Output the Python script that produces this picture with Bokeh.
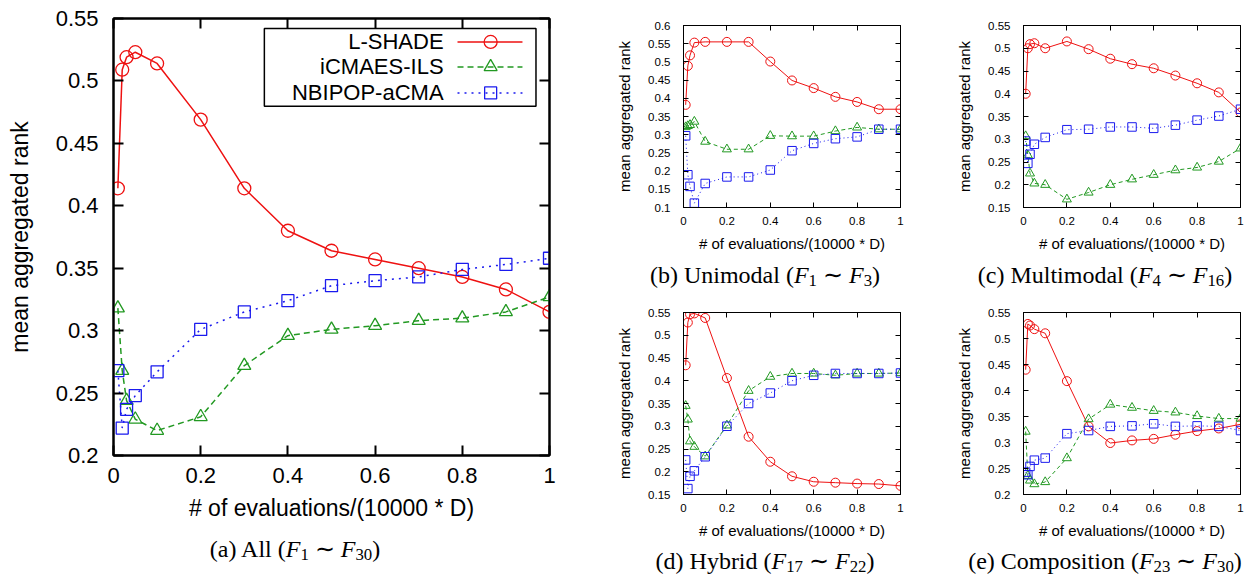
from bokeh.plotting import figure
from bokeh.models import Range1d, FixedTicker, LinearAxis, Div
from bokeh.layouts import row, column
from bokeh.core.properties import value
from bokeh.embed import file_html
from bokeh.resources import INLINE

# ---------------- data ----------------
checkpoints = [0.01, 0.02, 0.03, 0.05, 0.1, 0.2, 0.3, 0.4, 0.5, 0.6, 0.7, 0.8, 0.9, 1.0]
algorithms = ["L-SHADE", "iCMAES-ILS", "NBIPOP-aCMA"]

all_lshade = [0.414, 0.509, 0.519, 0.523, 0.514, 0.469, 0.414, 0.380, 0.364, 0.357, 0.350, 0.343, 0.333, 0.315]
all_icmaes = [0.318, 0.268, 0.244, 0.229, 0.220, 0.231, 0.272, 0.296, 0.301, 0.304, 0.308, 0.310, 0.315, 0.327]
all_nbipop = [0.268, 0.222, 0.237, 0.248, 0.267, 0.301, 0.315, 0.324, 0.336, 0.340, 0.343, 0.349, 0.353, 0.358]

uni_lshade = [0.382, 0.489, 0.518, 0.553, 0.555, 0.555, 0.555, 0.501, 0.449, 0.428, 0.404, 0.390, 0.370, 0.370]
uni_icmaes = [0.321, 0.324, 0.327, 0.336, 0.281, 0.260, 0.260, 0.297, 0.296, 0.296, 0.310, 0.320, 0.315, 0.315]
uni_nbipop = [0.297, 0.190, 0.158, 0.112, 0.166, 0.184, 0.184, 0.203, 0.256, 0.276, 0.289, 0.294, 0.315, 0.315]

multi_lshade = [0.400, 0.500, 0.509, 0.511, 0.500, 0.515, 0.498, 0.477, 0.465, 0.456, 0.440, 0.423, 0.403, 0.359]
multi_icmaes = [0.307, 0.265, 0.225, 0.203, 0.200, 0.168, 0.183, 0.200, 0.212, 0.222, 0.232, 0.238, 0.251, 0.280]
multi_nbipop = [0.296, 0.247, 0.267, 0.289, 0.304, 0.321, 0.322, 0.327, 0.327, 0.324, 0.331, 0.342, 0.351, 0.366]

hyb_lshade = [0.434, 0.528, 0.546, 0.548, 0.538, 0.406, 0.277, 0.222, 0.190, 0.178, 0.176, 0.174, 0.173, 0.169]
hyb_icmaes = [0.345, 0.315, 0.267, 0.255, 0.234, 0.302, 0.378, 0.409, 0.416, 0.416, 0.412, 0.416, 0.416, 0.417]
hyb_nbipop = [0.226, 0.163, 0.190, 0.202, 0.233, 0.300, 0.350, 0.373, 0.400, 0.412, 0.416, 0.416, 0.416, 0.417]

comp_lshade = [0.440, 0.528, 0.525, 0.518, 0.510, 0.418, 0.331, 0.299, 0.304, 0.307, 0.315, 0.322, 0.327, 0.335]
comp_icmaes = [0.321, 0.236, 0.227, 0.220, 0.224, 0.270, 0.345, 0.373, 0.367, 0.361, 0.358, 0.351, 0.346, 0.346]
comp_nbipop = [0.243, 0.238, 0.254, 0.266, 0.270, 0.317, 0.323, 0.331, 0.332, 0.336, 0.331, 0.332, 0.331, 0.323]

x_ticks = [0, 0.2, 0.4, 0.6, 0.8, 1]
x_tick_labels = ["0", "0.2", "0.4", "0.6", "0.8", "1"]
y_ticks_all = [0.2, 0.25, 0.3, 0.35, 0.4, 0.45, 0.5, 0.55]
y_labels_all = ["0.2", "0.25", "0.3", "0.35", "0.4", "0.45", "0.5", "0.55"]
y_ticks_uni = [0.1, 0.15, 0.2, 0.25, 0.3, 0.35, 0.4, 0.45, 0.5, 0.55, 0.6]
y_labels_uni = ["0.1", "0.15", "0.2", "0.25", "0.3", "0.35", "0.4", "0.45", "0.5", "0.55", "0.6"]
y_ticks_mid = [0.15, 0.2, 0.25, 0.3, 0.35, 0.4, 0.45, 0.5, 0.55]
y_labels_mid = ["0.15", "0.2", "0.25", "0.3", "0.35", "0.4", "0.45", "0.5", "0.55"]
y_ticks_comp = [0.2, 0.25, 0.3, 0.35, 0.4, 0.45, 0.5, 0.55]
y_labels_comp = ["0.2", "0.25", "0.3", "0.35", "0.4", "0.45", "0.5", "0.55"]

x_title = "# of evaluations/(10000 * D)"
y_title = "mean aggregated rank"

# ---------------- styles ----------------
COLORS = ["#ee1111", "#229922", "#1a1aee"]
MARKERS = ["circle", "triangle", "square"]
SANS = "Liberation Sans"
SERIF = "Liberation Serif"


def style_axis(ax, ticks, labels, tick_font, tick_len, lw, standoff, show):
    ax.ticker = FixedTicker(ticks=ticks)
    ax.minor_tick_line_color = None
    ax.major_tick_in = tick_len
    ax.major_tick_out = 0
    ax.major_tick_line_width = lw
    ax.major_tick_line_color = "black"
    ax.axis_line_width = lw
    ax.axis_line_color = "black"
    ax.major_label_text_font = SANS
    if show:
        ax.major_label_overrides = {t: l for t, l in zip(ticks, labels)}
        ax.major_label_text_color = "black"
        ax.major_label_text_font_size = f"{tick_font}px"
        ax.major_label_standoff = standoff
    else:
        # mirror axis: ticks only, labels not drawn
        ax.major_label_text_color = None
        ax.major_label_text_alpha = 0
        ax.major_label_text_font_size = "1px"
        ax.major_label_standoff = 0


def panel(width, height, bl, br, bt, bb, yr, yticks, ylabels, series, big):
    p = figure(width=width, height=height, x_range=Range1d(0, 1), y_range=Range1d(*yr),
               output_backend="svg", toolbar_location=None,
               min_border_left=bl, min_border_right=br, min_border_top=bt, min_border_bottom=bb)
    p.xgrid.visible = False
    p.ygrid.visible = False
    p.background_fill_color = "white"
    p.border_fill_color = "white"
    lw = 2 if big else 1
    p.outline_line_color = "black"
    p.outline_line_width = lw
    tf = 22 if big else 11.5
    lf = 23 if big else 15
    tl = 10 if big else 5
    style_axis(p.xaxis[0], x_ticks, x_tick_labels, tf, tl, lw, 12 if big else 9, True)
    style_axis(p.yaxis[0], yticks, ylabels, tf, tl, lw, 15 if big else 13, True)
    p.xaxis[0].axis_label = x_title
    p.yaxis[0].axis_label = y_title
    for ax, so in ((p.xaxis[0], 9 if big else 7), (p.yaxis[0], 20 if big else 12)):
        ax.axis_label_text_font = SANS
        ax.axis_label_text_font_size = f"{lf}px"
        ax.axis_label_text_font_style = "normal"
        ax.axis_label_text_color = "black"
        ax.axis_label_standoff = so
    top = LinearAxis()
    style_axis(top, x_ticks, x_tick_labels, tf, tl, lw, 0, False)
    p.add_layout(top, "above")
    right = LinearAxis()
    style_axis(right, yticks, ylabels, tf, tl, lw, 0, False)
    p.add_layout(right, "right")

    dashes = ["solid", "6 4", "2 5"] if big else ["solid", "4 3", "1 3"]
    line_w = 1.5 if big else 1.0
    msize = [13, 13, 12] if big else [9, 9, 8.5]
    for i, ys in enumerate(series):
        p.line(checkpoints, ys, line_color=COLORS[i], line_width=line_w, line_dash=dashes[i])
        p.scatter(checkpoints, ys, marker=MARKERS[i], size=msize[i], fill_color=None,
                  line_color=COLORS[i], line_width=1.3 if big else 1.0)
    return p, dashes, msize


# ---------------- main panel (a) ----------------
p_a, dashes_a, msize_a = panel(575, 530, 113, 26, 18, 75, (0.2, 0.55), y_ticks_all, y_labels_all,
                               [all_lshade, all_icmaes, all_nbipop], True)

# custom gnuplot-style key (text right-aligned, sample on the right)
key_box = dict(left=0.346, right=0.969, bottom=0.4797, top=0.542)
key_rows = [0.5312, 0.5112, 0.4904]
key_text_x = 0.757
key_line = (0.789, 0.938)
key_mark_x = 0.865
p_a.quad(left=[key_box["left"]], right=[key_box["right"]], bottom=[key_box["bottom"]], top=[key_box["top"]],
         fill_color=None, line_color="black", line_width=1.5)
p_a.text(x=[key_text_x] * 3, y=key_rows, text=algorithms, text_align="right", text_baseline="middle",
         text_font=value(SANS), text_font_size="22px", text_color="black")
for i, yk in enumerate(key_rows):
    p_a.line(list(key_line), [yk, yk], line_color=COLORS[i], line_width=1.5, line_dash=dashes_a[i])
    p_a.scatter([key_mark_x], [yk], marker=MARKERS[i], size=msize_a[i], fill_color=None,
                line_color=COLORS[i], line_width=1.3)

# ---------------- small panels ----------------
p_b, _, _ = panel(355, 258, 108, 30, 25, 51, (0.1, 0.6), y_ticks_uni, y_labels_uni,
                  [uni_lshade, uni_icmaes, uni_nbipop], False)
p_c, _, _ = panel(317, 258, 93, 7, 25, 51, (0.15, 0.55), y_ticks_mid, y_labels_mid,
                  [multi_lshade, multi_icmaes, multi_nbipop], False)
p_d, _, _ = panel(355, 254, 108, 30, 20, 52, (0.15, 0.55), y_ticks_mid, y_labels_mid,
                  [hyb_lshade, hyb_icmaes, hyb_nbipop], False)
p_e, _, _ = panel(317, 254, 93, 7, 20, 52, (0.2, 0.55), y_ticks_comp, y_labels_comp,
                  [comp_lshade, comp_icmaes, comp_nbipop], False)


# ---------------- captions ----------------
def caption(tag, name, a, b, width, height, pad_top, pad_left):
    sub = '<sub style="font-size:70%;line-height:0;vertical-align:-0.2em">'
    html = (f'<div style="width:{width}px;height:{height}px;box-sizing:border-box;'
            f'padding-top:{pad_top}px;padding-left:{pad_left}px;text-align:center;'
            f"font-family:'{SERIF}';font-size:24px;line-height:24px;white-space:nowrap;color:black;\">"
            f'({tag}) {name} (<i>F</i>{sub}{a}</sub> &#8764; <i>F</i>{sub}{b}</sub>)</div>')
    return Div(text=html, width=width, height=height, margin=0)


cap_a = caption("a", "All", "1", "30", 575, 48, 7, 15)
cap_b = caption("b", "Unimodal", "1", "3", 355, 34, 5, 25)
cap_c = caption("c", "Multimodal", "4", "16", 317, 34, 5, 33)
cap_d = caption("d", "Hybrid", "17", "22", 355, 32, 3, 25)
cap_e = caption("e", "Composition", "23", "30", 317, 32, 3, 33)

left_col = column(p_a, cap_a, spacing=0)
right_col = column(row(p_b, p_c, spacing=0), row(cap_b, cap_c, spacing=0),
                   row(p_d, p_e, spacing=0), row(cap_d, cap_e, spacing=0), spacing=0)
layout = row(left_col, right_col, spacing=0)

open("out.html", "w").write(file_html(layout, INLINE))
